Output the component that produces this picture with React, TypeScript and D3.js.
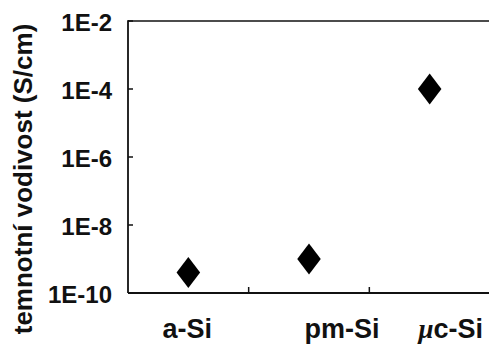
import React from "react";
import * as d3 from "d3";

const categories = ["a-Si", "pm-Si", "μc-Si"];
const conductivity = [4e-10, 1e-9, 1e-4];
const tickValues = [1e-2, 1e-4, 1e-6, 1e-8, 1e-10];
const tickLabels = ["1E-2", "1E-4", "1E-6", "1E-8", "1E-10"];
const yTitle = "temnotní vodivost (S/cm)";

const W = 489;
const H = 344;
const left = 128;
const top = 21;
const bottom = 293;
const right = 490;

// labels under the axis are not centered on the bands in the original
const labelShift = [-1, 33, 21];

const diamond = {
  draw(ctx: any, size: number) {
    const hw = size * 0.76;
    const hh = size;
    ctx.moveTo(0, -hh);
    ctx.lineTo(hw, 0);
    ctx.lineTo(0, hh);
    ctx.lineTo(-hw, 0);
    ctx.closePath();
  },
};

const App: React.FC = () => {
  const x = d3.scaleBand<string>().domain(categories).range([left, right]);
  const y = d3.scaleLog().domain([1e-10, 1e-2]).range([bottom, top]);
  const marker = d3.symbol(diamond as any, 15.5)();
  const font = "'Liberation Sans', Arial, sans-serif";

  // the greek mu is drawn in a symbol-like italic face
  const label = (c: string) =>
    c.startsWith("μ") ? (
      <>
        <tspan fontFamily="'Liberation Serif', serif" fontStyle="italic">μ</tspan>
        {c.slice(1)}
      </>
    ) : (
      c
    );

  return (
    <svg
      width={W}
      height={H}
      style={{ position: "absolute", left: 0, top: 0, background: "white" }}
    >
      {/* axes */}
      <line x1={left} y1={top} x2={W} y2={top} stroke="#111" strokeWidth={1.6} />
      <line x1={left} y1={top - 0.8} x2={left} y2={bottom} stroke="#111" strokeWidth={1.8} />
      <line x1={left} y1={bottom} x2={W} y2={bottom} stroke="#111" strokeWidth={1.8} />

      {tickValues.map((t, i) => (
        <g key={t}>
          <line x1={left} x2={left + 5} y1={y(t)} y2={y(t)} stroke="#111" strokeWidth={1.5} />
          <text
            x={112}
            y={y(t)}
            dy="0.4em"
            textAnchor="end"
            fontFamily={font}
            fontWeight="bold"
            fontSize={24}
            fill="#111"
          >
            {tickLabels[i]}
          </text>
        </g>
      ))}

      {categories.slice(1).map((c) => (
        <line
          key={c}
          x1={x(c)!}
          x2={x(c)!}
          y1={bottom}
          y2={bottom - 6}
          stroke="#111"
          strokeWidth={1.5}
        />
      ))}

      {categories.map((c, i) => (
        <text
          key={c}
          x={x(c)! + x.bandwidth() / 2 + labelShift[i]}
          y={338}
          textAnchor="middle"
          fontFamily={font}
          fontWeight="bold"
          fontSize={27}
          fill="#111"
        >
          {label(c)}
        </text>
      ))}

      {categories.map((c, i) => (
        <path
          key={c}
          d={marker!}
          transform={`translate(${x(c)! + x.bandwidth() / 2},${y(conductivity[i])})`}
          fill="#000"
        />
      ))}

      <text
        transform={`translate(32,179) rotate(-90)`}
        textAnchor="middle"
        fontFamily={font}
        fontWeight="bold"
        fontSize={26}
        fill="#111"
      >
        {yTitle}
      </text>
    </svg>
  );
};

export default App;
